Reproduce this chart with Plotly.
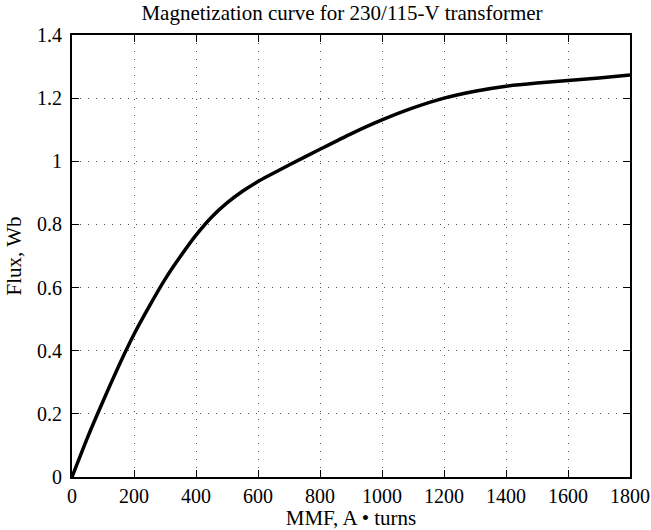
import plotly.graph_objects as go

mmf = [0, 50, 100, 150, 200, 250, 300, 350, 400, 450, 500, 550, 600, 700, 800, 900, 1000, 1100, 1200, 1300, 1400, 1500, 1600, 1700, 1800]
flux = [0, 0.125, 0.24, 0.35, 0.452, 0.542, 0.626, 0.699, 0.766, 0.823, 0.868, 0.905, 0.936, 0.988, 1.038, 1.087, 1.131, 1.169, 1.200, 1.222, 1.238, 1.248, 1.256, 1.264, 1.273]

title_text = "Magnetization curve for 230/115-V transformer"
x_title = "MMF, A \u2022 turns"
y_title = "Flux, Wb"

font = "Liberation Serif, Times New Roman, serif"

fig = go.Figure()
fig.add_trace(go.Scatter(x=mmf, y=flux, mode="lines",
                         line=dict(color="black", width=3.5, shape="spline", smoothing=0.6),
                         showlegend=False, hoverinfo="skip"))

axis_common = dict(
    showline=True, linecolor="black", linewidth=2, mirror="ticks",
    ticks="inside", ticklen=7, tickwidth=1, tickcolor="black",
    showgrid=True, gridcolor="#555", gridwidth=1, griddash="1px,7px",
    zeroline=False, tickfont=dict(family=font, size=20, color="black"),
    automargin=False,
)

fig.update_xaxes(range=[0, 1800], dtick=200, tick0=0,
                 title=dict(text=x_title, font=dict(family=font, size=21, color="black"), standoff=2),
                 **axis_common)
fig.update_yaxes(range=[0, 1.4], dtick=0.2, tick0=0, ticklabelstandoff=4,
                 title=dict(text=y_title, font=dict(family=font, size=21, color="black"), standoff=10),
                 **axis_common)

fig.update_layout(
    width=651, height=530,
    margin=dict(l=72, r=21, t=35, b=53),
    paper_bgcolor="white", plot_bgcolor="white",
    title=dict(text=title_text, x=342 / 651, xref="container", xanchor="center",
               y=1 - 13 / 530, yref="container", yanchor="middle",
               font=dict(family=font, size=21, color="black")),
    font=dict(family=font, color="black"),
)

fig.write_html("out.html", config={"displayModeBar": False},
               post_script="document.body.style.margin='0';document.body.style.padding='0';")
